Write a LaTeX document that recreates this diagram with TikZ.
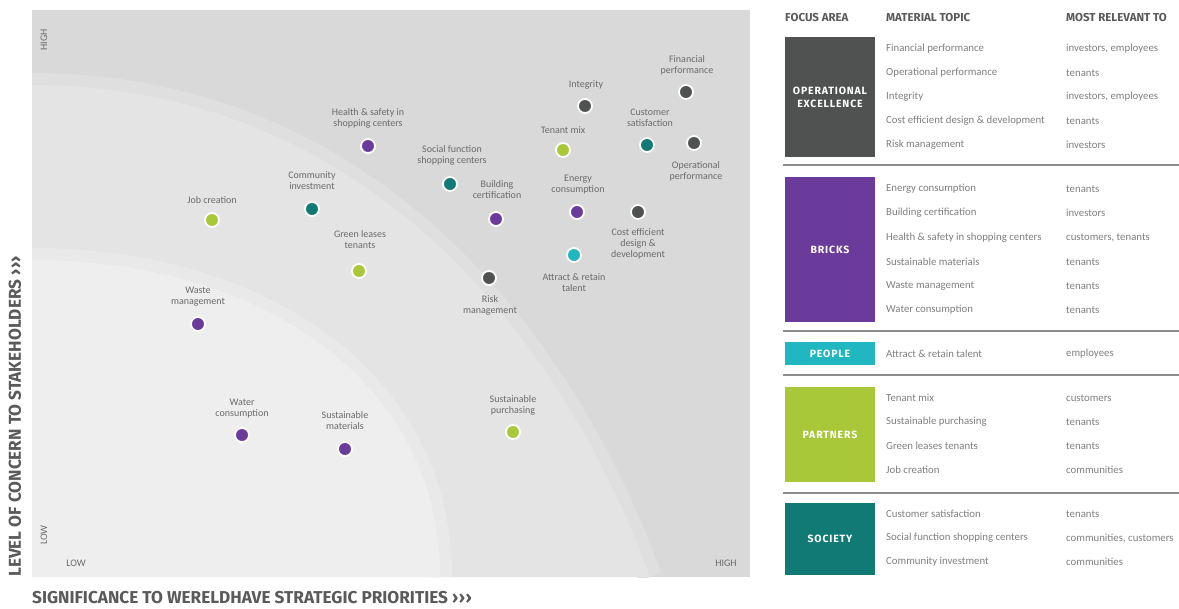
\documentclass[tikz,border=0pt]{standalone}
\usepackage{fontspec}
\setmainfont{Carlito}
\newfontfamily\hdfont{Fira Sans}
\newfontfamily\boxfont{Fira Sans}[LetterSpace=8]
\definecolor{opgray}{HTML}{4F5251}
\definecolor{brpurple}{HTML}{6B3B9B}
\definecolor{pecyan}{HTML}{20B7C0}
\definecolor{palime}{HTML}{A8C83A}
\definecolor{soteal}{HTML}{127A74}
\definecolor{labgray}{HTML}{6A6A6A}
\definecolor{cellgray}{HTML}{808080}
\definecolor{axgray}{HTML}{5A5A5A}
\definecolor{bgdark}{HTML}{D9D9D9}
\definecolor{bgmid}{HTML}{E4E4E4}
\definecolor{bglight}{HTML}{EEEEEE}
\definecolor{sepgray}{HTML}{8C8C8C}
\newcommand{\chev}{›\kern0.6pt›\kern0.6pt›}
\tikzset{
  dot/.style={circle, minimum size=14pt, inner sep=0pt, draw=white, line width=1.8pt},
  lbl/.style={font=\fontsize{10}{11}\selectfont, text=labgray, align=center, inner sep=0pt},
  ticklbl/.style={font=\fontsize{10}{11}\selectfont, text=labgray, inner sep=0pt},
  axtitle/.style={font=\hdfont\bfseries\fontsize{17.2}{18}\selectfont, text=axgray, inner sep=0pt},
  hdr/.style={font=\hdfont\bfseries\fontsize{11.5}{12}\selectfont, text=axgray, anchor=west, inner sep=0pt},
  fabox/.style={minimum width=90pt, inner sep=0pt, align=center, text=white, font=\boxfont\bfseries\fontsize{10.5}{13}\selectfont},
  cell/.style={font=\fontsize{10.8}{12}\selectfont, text=cellgray, anchor=west, inner sep=0pt},
  sep/.style={draw=sepgray, line width=2pt}
}
\begin{document}
\begin{tikzpicture}[x=1pt,y=-1pt]
\useasboundingbox (0,0) rectangle (1179,609);
\fill[white] (0,0) rectangle (1179,609);
% chart background
\begin{scope}
\clip (32,10) rectangle (750,577);
\fill[bgdark] (32,10) rectangle (750,577);
\draw[line width=24pt, color=bgdark!50!bgmid] (32,85) .. controls (360,85) and (560,330) .. (650,577);
\fill[bgmid] (32,85) .. controls (360,85) and (560,330) .. (650,577) -- (32,577) -- cycle;
\draw[line width=24pt, color=bgmid!50!bglight] (32,260) .. controls (260,260) and (440,380) .. (440,577);
\fill[bglight] (32,260) .. controls (260,260) and (440,380) .. (440,577) -- (32,577) -- cycle;
\end{scope}
% ticks
\node[ticklbl, rotate=90] (yhigh) at (44,40) {HIGH};
\node[ticklbl, rotate=90] (ylow) at (44,535) {LOW};
\node[ticklbl] (xlow) at (76,563) {LOW};
\node[ticklbl] (xhigh) at (726,563) {HIGH};
% axis titles
\node[axtitle, rotate=90, anchor=west] (ytitle) at (15,577) {LEVEL OF CONCERN TO STAKEHOLDERS \chev};
\node[axtitle, anchor=west] (xtitle) at (32,598) {SIGNIFICANCE TO WERELDHAVE STRATEGIC PRIORITIES \chev};
% dots and labels
\node[dot, fill=opgray] (finp) at (686,92) {};
\node[lbl] (finpl) at (687,65) {Financial\\performance};
\node[dot, fill=opgray] (integ) at (585,106) {};
\node[lbl] (integl) at (586,85) {Integrity};
\node[dot, fill=soteal] (custs) at (647,145) {};
\node[lbl] (custsl) at (650,118) {Customer\\satisfaction};
\node[dot, fill=opgray] (opp) at (694,143) {};
\node[lbl] (oppl) at (696,171) {Operational\\performance};
\node[dot, fill=palime] (tmix) at (563,150) {};
\node[lbl] (tmixl) at (563,130) {Tenant mix};
\node[dot, fill=brpurple] (hsafe) at (368,146) {};
\node[lbl] (hsafel) at (368,118) {Health \& safety in\\shopping centers};
\node[dot, fill=soteal] (socf) at (450,184) {};
\node[lbl] (socfl) at (452,155) {Social function\\shopping centers};
\node[dot, fill=brpurple] (bcert) at (496,219) {};
\node[lbl] (bcertl) at (497,190) {Building\\certification};
\node[dot, fill=brpurple] (energy) at (577,212) {};
\node[lbl] (energyl) at (578,185) {Energy\\consumption};
\node[dot, fill=opgray] (cost) at (638,212) {};
\node[lbl] (costl) at (638,244) {Cost efficient\\design \&\\development};
\node[dot, fill=pecyan] (talent) at (574,255) {};
\node[lbl] (talentl) at (574,283) {Attract \& retain\\talent};
\node[dot, fill=opgray] (risk) at (489,278) {};
\node[lbl] (riskl) at (490,305) {Risk\\management};
\node[dot, fill=soteal] (comm) at (312,209) {};
\node[lbl] (comml) at (312,181) {Community\\investment};
\node[dot, fill=palime] (job) at (212,220) {};
\node[lbl] (jobl) at (212,200) {Job creation};
\node[dot, fill=palime] (green) at (359,271) {};
\node[lbl] (greenl) at (360,240) {Green leases\\tenants};
\node[dot, fill=brpurple] (waste) at (198,324) {};
\node[lbl] (wastel) at (198,297) {Waste\\management};
\node[dot, fill=brpurple] (water) at (242,435) {};
\node[lbl] (waterl) at (242,409) {Water\\consumption};
\node[dot, fill=brpurple] (smat) at (345,449) {};
\node[lbl] (smatl) at (345,421) {Sustainable\\materials};
\node[dot, fill=palime] (spur) at (513,432) {};
\node[lbl] (spurl) at (513,405) {Sustainable\\purchasing};
% table headers
\node[hdr] (h1) at (785,18) {FOCUS AREA};
\node[hdr] (h2) at (886,18) {MATERIAL TOPIC};
\node[hdr] (h3) at (1066,18) {MOST RELEVANT TO};
% focus boxes
\node[fabox, fill=opgray, minimum height=120pt] (opbox) at (830,97) {OPERATIONAL\\EXCELLENCE};
\node[fabox, fill=brpurple, minimum height=145pt] (brbox) at (830,249.5) {BRICKS};
\node[fabox, fill=pecyan, minimum height=23pt] (pebox) at (830,353.5) {PEOPLE};
\node[fabox, fill=palime, minimum height=95pt] (pabox) at (830,434.5) {PARTNERS};
\node[fabox, fill=soteal, minimum height=72pt] (sobox) at (830,539) {SOCIETY};
% separators
\coordinate (s1a) at (783,165); \coordinate (s1b) at (1179,165);
\coordinate (s2a) at (783,331); \coordinate (s2b) at (1179,331);
\coordinate (s3a) at (783,375); \coordinate (s3b) at (1179,375);
\coordinate (s4a) at (783,493); \coordinate (s4b) at (1179,493);
\draw[sep] (s1a) -- (s1b);
\draw[sep] (s2a) -- (s2b);
\draw[sep] (s3a) -- (s3b);
\draw[sep] (s4a) -- (s4b);
% rows operational excellence
\node[cell] (t1) at (886,49) {Financial performance};
\node[cell] (r1) at (1066,49) {investors, employees};
\node[cell] (t2) at (886,73) {Operational performance};
\node[cell] (r2) at (1066,73) {tenants};
\node[cell] (t3) at (886,97) {Integrity};
\node[cell] (r3) at (1066,97) {investors, employees};
\node[cell] (t4) at (886,121) {Cost efficient design \& development};
\node[cell] (r4) at (1066,121) {tenants};
\node[cell] (t5) at (886,145) {Risk management};
\node[cell] (r5) at (1066,145) {investors};
% bricks
\node[cell] (t6) at (886,189) {Energy consumption};
\node[cell] (r6) at (1066,189) {tenants};
\node[cell] (t7) at (886,213) {Building certification};
\node[cell] (r7) at (1066,213) {investors};
\node[cell] (t8) at (886,238) {Health \& safety in shopping centers};
\node[cell] (r8) at (1066,238) {customers, tenants};
\node[cell] (t9) at (886,262) {Sustainable materials};
\node[cell] (r9) at (1066,262) {tenants};
\node[cell] (t10) at (886,286) {Waste management};
\node[cell] (r10) at (1066,286) {tenants};
\node[cell] (t11) at (886,310) {Water consumption};
\node[cell] (r11) at (1066,310) {tenants};
% people
\node[cell] (t12) at (886,354) {Attract \& retain talent};
\node[cell] (r12) at (1066,354) {employees};
% partners
\node[cell] (t13) at (886,398) {Tenant mix};
\node[cell] (r13) at (1066,398) {customers};
\node[cell] (t14) at (886,422) {Sustainable purchasing};
\node[cell] (r14) at (1066,422) {tenants};
\node[cell] (t15) at (886,446) {Green leases tenants};
\node[cell] (r15) at (1066,446) {tenants};
\node[cell] (t16) at (886,470) {Job creation};
\node[cell] (r16) at (1066,470) {communities};
% society
\node[cell] (t17) at (886,514) {Customer satisfaction};
\node[cell] (r17) at (1066,514) {tenants};
\node[cell] (t18) at (886,538) {Social function shopping centers};
\node[cell] (r18) at (1066,538) {communities, customers};
\node[cell] (t19) at (886,562) {Community investment};
\node[cell] (r19) at (1066,562) {communities};
\end{tikzpicture}
\end{document}
